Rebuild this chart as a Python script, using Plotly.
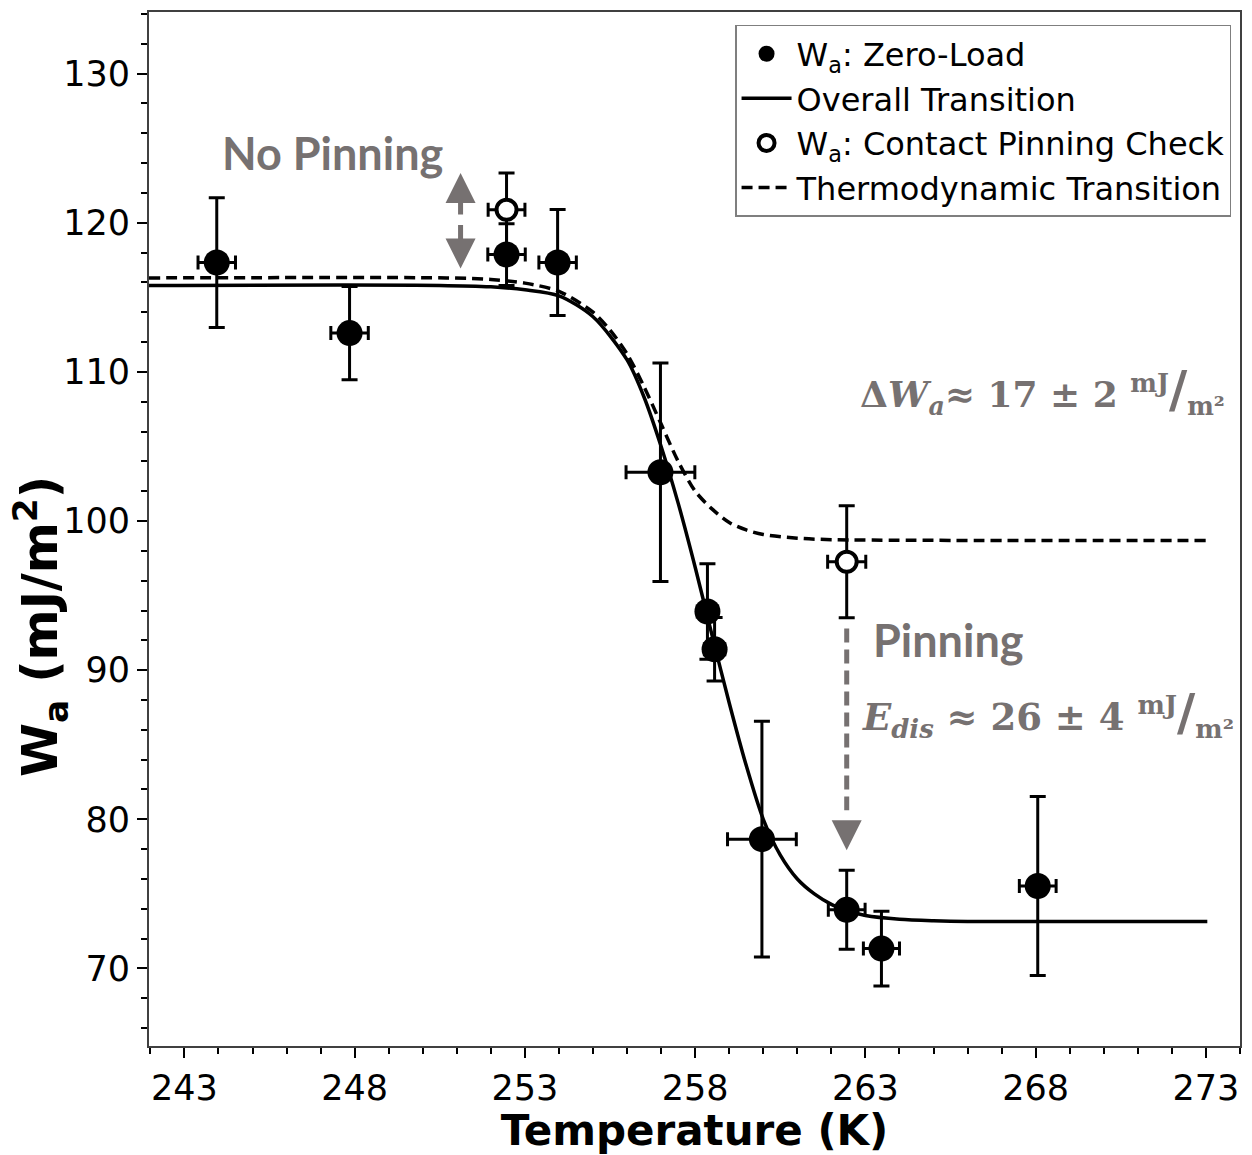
import plotly.graph_objects as go

# ---------------- data ----------------
zero_T = [243.95, 247.85, 252.46, 253.96, 256.98, 258.36, 258.57, 259.96, 262.45, 263.47, 268.06]
zero_W = [117.33, 112.6, 117.87, 117.33, 103.27, 93.93, 91.4, 78.67, 73.93, 71.33, 75.53]
zero_Werr = [4.35, 3.13, 2.07, 3.55, 7.33, 3.2, 2.13, 7.9, 2.65, 2.5, 6.0]
zero_Terr = [0.55, 0.55, 0.55, 0.55, 1.01, 0.3, 0.3, 1.01, 0.54, 0.53, 0.54]

pin_T = [252.46, 262.45]
pin_W = [120.87, 97.27]
pin_Werr = [2.47, 3.75]
pin_Terr = [0.54, 0.56]

overall_T = [241.96, 250.5, 252.0, 253.0, 254.0, 255.0, 256.0, 256.5, 257.0, 257.5,
             258.0, 258.5, 259.0, 259.5, 260.0, 260.5, 261.0, 261.5, 262.0, 262.5,
             263.0, 264.0, 265.0, 266.0, 273.04]
overall_W = [115.8, 115.8, 115.7, 115.5, 115.1, 113.7, 110.8, 108.3, 105.0, 101.2,
             96.9, 92.3, 87.8, 83.6, 80.0, 77.6, 76.0, 75.0, 74.3, 73.85,
             73.55, 73.3, 73.2, 73.15, 73.15]

thermo_T = [241.96, 250.7, 252.0, 253.0, 254.0, 255.0, 255.5, 256.0, 256.5, 257.0,
            257.5, 258.0, 258.5, 259.0, 259.5, 260.0, 261.0, 262.0, 273.04]
thermo_W = [116.3, 116.3, 116.2, 115.95, 115.4, 114.0, 112.8, 111.2, 109.0, 106.5,
            104.0, 102.0, 100.8, 99.9, 99.4, 99.1, 98.85, 98.75, 98.7]

x_tickvals = [243, 248, 253, 258, 263, 268, 273]
y_tickvals = [70, 80, 90, 100, 110, 120, 130]

GREY = "#767171"
TICKFONT = dict(family="DejaVu Sans", size=35, color="black")

fig = go.Figure()

fig.add_trace(go.Scatter(
    x=overall_T, y=overall_W, mode="lines", name="Overall Transition",
    line=dict(color="black", width=3.5, shape="spline", smoothing=0.8),
    legendrank=2, legendgroup="b"))
fig.add_trace(go.Scatter(
    x=thermo_T, y=thermo_W, mode="lines", name="Thermodynamic Transition",
    line=dict(color="black", width=3.5, dash="11px,6px", shape="spline", smoothing=0.8),
    legendrank=4, legendgroup="d"))

fig.add_trace(go.Scatter(
    x=zero_T, y=zero_W, mode="markers", name="W<sub>a</sub>: Zero-Load",
    marker=dict(symbol="circle", size=26, color="black"),
    error_y=dict(type="data", array=zero_Werr, color="black", thickness=3, width=8),
    error_x=dict(type="data", array=zero_Terr, color="black", thickness=3, width=7),
    legendrank=1, legendgroup="a"))
fig.add_trace(go.Scatter(
    x=pin_T, y=pin_W, mode="markers", name="W<sub>a</sub>: Contact Pinning Check",
    marker=dict(symbol="circle", size=20, color="white", line=dict(color="black", width=4)),
    error_y=dict(type="data", array=pin_Werr, color="black", thickness=3, width=8),
    error_x=dict(type="data", array=pin_Terr, color="black", thickness=3, width=7),
    legendrank=3, legendgroup="c"))

# dashed shaft of the "Pinning" arrow
fig.add_shape(type="line", x0=262.45, x1=262.45, y0=92.8, y1=80.6,
              line=dict(color=GREY, width=5, dash="14px,7px"))

annotations = [
    # Pinning arrow head
    dict(x=262.45, y=77.93, ax=0, ay=-30, showarrow=True, arrowhead=2, arrowsize=1.2,
         arrowwidth=5, arrowcolor=GREY, text="", standoff=0),
    # double arrow (No Pinning)
    dict(x=251.11, y=123.33, ax=0, ay=43, showarrow=True, arrowhead=2, arrowsize=1.2,
         arrowwidth=5, arrowcolor=GREY, text="", standoff=0),
    dict(x=251.11, y=116.93, ax=0, ay=-45, showarrow=True, arrowhead=2, arrowsize=1.2,
         arrowwidth=5, arrowcolor=GREY, text="", standoff=0),
    dict(x=247.35, y=124.67, text="No Pinning", showarrow=False,
         font=dict(family="Lato", size=45, color=GREY, weight="bold"),
         xanchor="center", yanchor="middle"),
    dict(x=265.45, y=92.0, text="Pinning", showarrow=False,
         font=dict(family="Lato", size=45, color=GREY, weight="bold"),
         xanchor="center", yanchor="middle"),
    dict(x=268.2, y=108.75,
         text="Δ<i>W<sub>a</sub></i>≈ 17 ± 2 <sup>mJ</sup><span style='font-size:50px'>/</span><sub>m²</sub>",
         showarrow=False, font=dict(family="DejaVu Serif", size=36, color=GREY, weight="bold"),
         xanchor="center", yanchor="middle"),
    dict(x=268.35, y=87.1,
         text="<i>E<sub>dis</sub></i> ≈ 26 ± 4 <sup>mJ</sup><span style='font-size:50px'>/</span><sub>m²</sub>",
         showarrow=False, font=dict(family="DejaVu Serif", size=37, color=GREY, weight="bold"),
         xanchor="center", yanchor="middle"),
    # y-axis title
    dict(xref="paper", yref="paper", x=-0.1, y=0.406, textangle=-90,
         text="W<sub>a</sub> (mJ/m<sup>2</sup>)", showarrow=False,
         font=dict(family="DejaVu Sans", size=49, color="black", weight="bold"),
         xanchor="center", yanchor="middle"),
]

fig.update_layout(
    width=1252, height=1155,
    margin=dict(l=149, r=10, t=10, b=105),
    paper_bgcolor="white", plot_bgcolor="white",
    showlegend=True,
    legend=dict(x=0.9918, y=0.9875, xanchor="right", yanchor="top",
                bgcolor="white", bordercolor="#7f7f7f", borderwidth=1.5,
                font=dict(family="DejaVu Sans", size=32, color="black"),
                tracegroupgap=0, itemwidth=50),
    annotations=annotations,
    xaxis=dict(range=[241.96, 274.0], tickvals=x_tickvals, ticktext=[str(v) for v in x_tickvals],
               ticks="outside", ticklen=10, tickwidth=1.5, tickcolor="black",
               minor=dict(dtick=1, tick0=243, ticks="outside", ticklen=6, tickwidth=1.5,
                          tickcolor="black", showgrid=False),
               showline=True, linecolor="#404040", linewidth=2, mirror=True,
               showgrid=False, zeroline=False, tickfont=TICKFONT,
               title=dict(text="Temperature (K)", standoff=8,
                          font=dict(family="DejaVu Sans", size=42, color="black", weight="bold"))),
    yaxis=dict(range=[64.8, 134.13], tickvals=y_tickvals, ticktext=[str(v) for v in y_tickvals],
               ticks="outside", ticklen=10, tickwidth=1.5, tickcolor="black",
               minor=dict(dtick=2, tick0=70, ticks="outside", ticklen=6, tickwidth=1.5,
                          tickcolor="black", showgrid=False),
               showline=True, linecolor="#404040", linewidth=2, mirror=True,
               showgrid=False, zeroline=False, tickfont=TICKFONT),
)

fig.write_html("out.html")
